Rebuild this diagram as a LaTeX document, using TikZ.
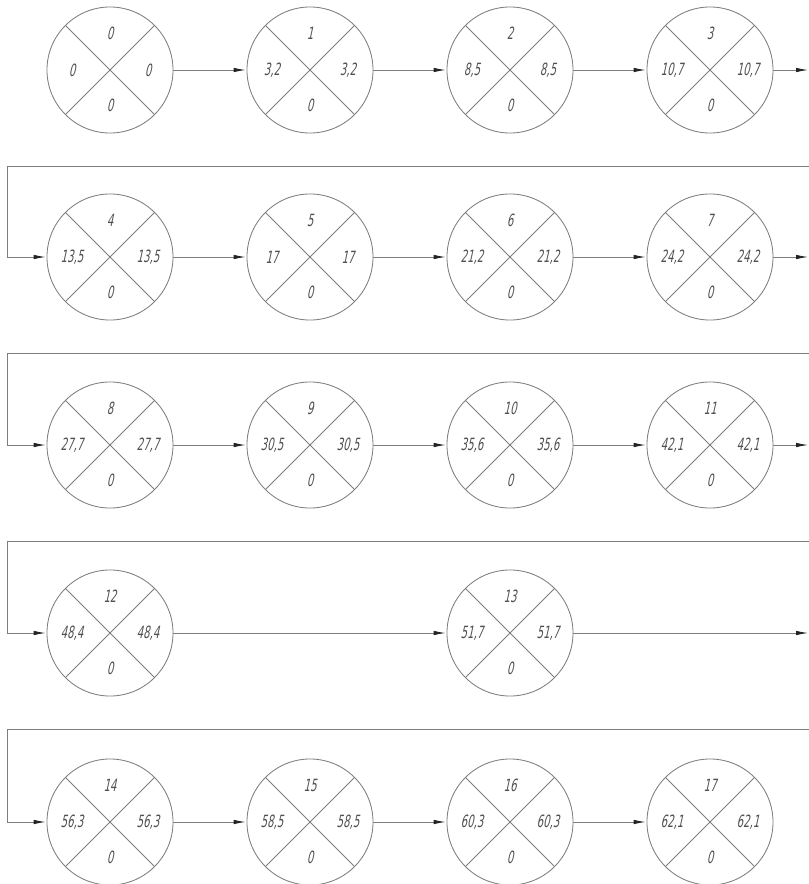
\documentclass[tikz,border=0pt]{standalone}
\usepackage{fontspec}
\usepackage{tikz}
\usetikzlibrary{arrows.meta}
\newfontfamily\gostfont[FakeStretch=0.6,FakeSlant=0.22]{DejaVu Sans}
\definecolor{linegray}{RGB}{125,125,125}
\definecolor{textgray}{RGB}{80,80,80}
\definecolor{tipgray}{RGB}{35,35,35}

\tikzset{
  eventnode/.style={circle, draw=linegray, line width=0.6pt, minimum size=3.15cm, inner sep=0pt},
  eventline/.style={draw=linegray, line width=0.6pt},
  eventlabel/.style={text=textgray, font=\gostfont\fontsize{12pt}{14pt}\selectfont, inner sep=0pt},
  flow/.style={draw=linegray, line width=0.6pt, shorten >=0.6pt,
    -{Latex[length=3mm,width=1.1mm,color=tipgray]}}
}

% event: name, x, y, number, early time, late time, reserve
\newcommand{\event}[7]{%
  \node[eventnode] (#1) at (#2,#3) {};
  \draw[eventline] (#1.45) -- (#1.225) (#1.135) -- (#1.315);
  \path (#1) ++(0,-37) node[eventlabel] {#4}
        (#1) ++(-38,0) node[eventlabel] {#5}
        (#1) ++(38,0) node[eventlabel] {#6}
        (#1) ++(0,35) node[eventlabel] {#7};
}

\begin{document}
\begin{tikzpicture}[x=0.025cm, y=-0.025cm]
        \useasboundingbox (0,0) rectangle (809,884);

        % Row 1
        \event{e0}{110}{70}{0}{0}{0}{0}
        \event{e1}{310}{70}{1}{3,2}{3,2}{0}
        \event{e2}{510}{70}{2}{8,5}{8,5}{0}
        \event{e3}{710}{70}{3}{10,7}{10,7}{0}

        % Row 2
        \event{e4}{110}{257}{4}{13,5}{13,5}{0}
        \event{e5}{310}{257}{5}{17}{17}{0}
        \event{e6}{510}{257}{6}{21,2}{21,2}{0}
        \event{e7}{710}{257}{7}{24,2}{24,2}{0}

        % Row 3
        \event{e8}{110}{445}{8}{27,7}{27,7}{0}
        \event{e9}{310}{445}{9}{30,5}{30,5}{0}
        \event{e10}{510}{445}{10}{35,6}{35,6}{0}
        \event{e11}{710}{445}{11}{42,1}{42,1}{0}

        % Row 4
        \event{e12}{110}{633}{12}{48,4}{48,4}{0}
        \event{e13}{510}{633}{13}{51,7}{51,7}{0}

        % Row 5
        \event{e14}{110}{822}{14}{56,3}{56,3}{0}
        \event{e15}{310}{822}{15}{58,5}{58,5}{0}
        \event{e16}{510}{822}{16}{60,3}{60,3}{0}
        \event{e17}{710}{822}{17}{62,1}{62,1}{0}

        % Page edge points for the row breaks
        \coordinate (r1) at (809,70);
        \coordinate (r2) at (809,257);
        \coordinate (r3) at (809,445);
        \coordinate (r4) at (809,633);
        \coordinate (w1) at (809,166);
        \coordinate (w2) at (809,353);
        \coordinate (w3) at (809,541);
        \coordinate (w4) at (809,729);
        \coordinate (v1) at (7,257);
        \coordinate (v2) at (7,445);
        \coordinate (v3) at (7,633);
        \coordinate (v4) at (7,822);

        % Connectors within rows
        \draw[flow] (e0) -- (e1);
        \draw[flow] (e1) -- (e2);
        \draw[flow] (e2) -- (e3);
        \draw[flow] (e3) -- (r1);
        \draw[flow] (e4) -- (e5);
        \draw[flow] (e5) -- (e6);
        \draw[flow] (e6) -- (e7);
        \draw[flow] (e7) -- (r2);
        \draw[flow] (e8) -- (e9);
        \draw[flow] (e9) -- (e10);
        \draw[flow] (e10) -- (e11);
        \draw[flow] (e11) -- (r3);
        \draw[flow] (e12) -- (e13);
        \draw[flow] (e13) -- (r4);
        \draw[flow] (e14) -- (e15);
        \draw[flow] (e15) -- (e16);
        \draw[flow] (e16) -- (e17);

        % Row breaks
        \draw[flow] (w1) -| (v1) -- (e4.west);
        \draw[flow] (w2) -| (v2) -- (e8.west);
        \draw[flow] (w3) -| (v3) -- (e12.west);
        \draw[flow] (w4) -| (v4) -- (e14.west);
\end{tikzpicture}
\end{document}
